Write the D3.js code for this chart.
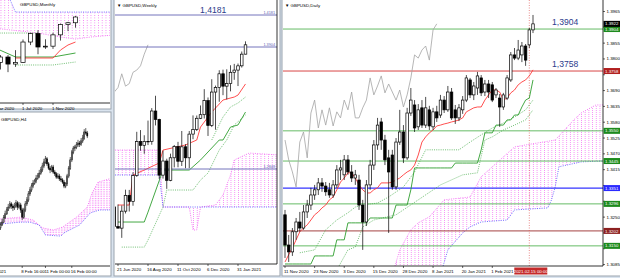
<!DOCTYPE html>
<html>
<head>
<meta charset="utf-8">
<script src="https://cdn.jsdelivr.net/npm/d3@7"></script>
<style>
  body { margin: 0; background: #d9e3ee; }
  svg { display: block; }
  text { font-family: "Liberation Sans", Arial, sans-serif; }
</style>
</head>
<body>
<svg id="chart" width="620" height="278"></svg>
<script>
// ---------- Daily, 11 Nov 2020 .. 16 Feb 2021 : [open, high, low, close]
const dailyOHLC = [
  [1.3258,1.3275,1.3108,1.3153],[1.3153,1.3188,1.3094,1.3129],[1.3129,1.3212,1.3115,1.3199],[1.3199,1.3247,1.3171,1.3233],
  [1.3233,1.3268,1.3199,1.3212],[1.3212,1.3292,1.3206,1.3268],[1.3268,1.3310,1.3247,1.3292],[1.3292,1.3352,1.3275,1.3327],
  [1.3327,1.3362,1.3310,1.3345],[1.3345,1.3386,1.3327,1.3369],[1.3369,1.3386,1.3338,1.3358],[1.3358,1.3372,1.3324,1.3338],
  [1.3345,1.3369,1.3317,1.3327],[1.3327,1.3379,1.3317,1.3362],[1.3362,1.3431,1.3352,1.3414],[1.3414,1.3449,1.3379,1.3421],
  [1.3397,1.3466,1.3379,1.3449],[1.3449,1.3466,1.3397,1.3407],[1.3407,1.3431,1.3372,1.3386],[1.3386,1.3414,1.3362,1.3397],
  [1.3379,1.3397,1.3275,1.3292],[1.3292,1.3310,1.3136,1.3233],[1.3233,1.3379,1.3219,1.3362],[1.3362,1.3449,1.3345,1.3431],
  [1.3431,1.3518,1.3414,1.3501],[1.3501,1.3595,1.3484,1.3570],[1.3581,1.3595,1.3484,1.3518],[1.3518,1.3536,1.3431,1.3449],
  [1.3456,1.3484,1.3195,1.3407],[1.3466,1.3484,1.3345,1.3355],[1.3355,1.3525,1.3345,1.3511],[1.3511,1.3623,1.3501,1.3546],
  [1.3546,1.3570,1.3438,1.3456],[1.3456,1.3630,1.3449,1.3612],[1.3612,1.3699,1.3602,1.3657],[1.3640,1.3657,1.3546,1.3560],
  [1.3564,1.3643,1.3553,1.3623],[1.3630,1.3657,1.3560,1.3570],[1.3570,1.3668,1.3560,1.3630],[1.3623,1.3637,1.3553,1.3567],
  [1.3564,1.3630,1.3553,1.3616],[1.3616,1.3637,1.3581,1.3595],[1.3605,1.3675,1.3595,1.3657],[1.3657,1.3671,1.3612,1.3623],
  [1.3623,1.3706,1.3616,1.3685],[1.3685,1.3699,1.3588,1.3595],[1.3623,1.3640,1.3574,1.3595],[1.3595,1.3643,1.3584,1.3630],
  [1.3623,1.3671,1.3609,1.3657],[1.3657,1.3744,1.3650,1.3734],[1.3727,1.3734,1.3664,1.3675],[1.3675,1.3720,1.3657,1.3706],
  [1.3699,1.3755,1.3675,1.3741],[1.3734,1.3744,1.3671,1.3682],[1.3685,1.3727,1.3671,1.3713],[1.3713,1.3727,1.3664,1.3685],
  [1.3710,1.3720,1.3650,1.3657],[1.3675,1.3699,1.3664,1.3692],[1.3664,1.3678,1.3564,1.3633],[1.3633,1.3682,1.3623,1.3675],
  [1.3664,1.3744,1.3657,1.3734],[1.3727,1.3824,1.3720,1.3814],[1.3814,1.3838,1.3796,1.3803],[1.3803,1.3866,1.3796,1.3831],
  [1.3814,1.3859,1.3789,1.3845],[1.3845,1.3852,1.3776,1.3796],[1.3849,1.3908,1.3838,1.3901],[1.3901,1.3953,1.3890,1.3922]
];
const dailyTenkan = [
  1.3094,1.3119,1.3143,1.3171,1.3199,1.3212,1.3223,1.3240,1.3258,1.3268,1.3282,1.3292,1.3310,1.3320,1.3345,1.3372,
  1.3386,1.3404,1.3404,1.3386,1.3362,1.3345,1.3334,1.3334,1.3345,1.3352,1.3369,1.3369,1.3369,1.3372,1.3379,1.3386,
  1.3397,1.3407,1.3414,1.3431,1.3466,1.3511,1.3529,1.3543,1.3553,1.3567,1.3570,1.3574,1.3577,1.3581,1.3584,1.3588,
  1.3595,1.3616,1.3623,1.3630,1.3633,1.3633,1.3657,1.3675,1.3692,1.3692,1.3685,1.3657,1.3664,1.3682,1.3692,1.3710,
  1.3720,1.3727,1.3741,1.3762
];
const dailyKijun = [
  1.3087,1.3087,1.3087,1.3087,1.3087,1.3087,1.3087,1.3087,1.3115,1.3115,1.3115,1.3115,1.3115,1.3115,1.3171,1.3171,
  1.3171,1.3230,1.3230,1.3230,1.3230,1.3230,1.3230,1.3247,1.3247,1.3247,1.3247,1.3247,1.3247,1.3247,1.3292,1.3292,
  1.3292,1.3292,1.3345,1.3421,1.3421,1.3421,1.3421,1.3421,1.3421,1.3421,1.3421,1.3421,1.3421,1.3421,1.3438,1.3438,
  1.3438,1.3438,1.3438,1.3438,1.3438,1.3484,1.3543,1.3543,1.3543,1.3570,1.3570,1.3570,1.3588,1.3588,1.3605,1.3605,
  1.3633,1.3657,1.3664,1.3727
];
// higher-timeframe lines shown dotted: [bar index, price]
const dailyDotUpper = [[4,1.3126],[8,1.3136],[11,1.3206],[14,1.3240],[17,1.3265],[19,1.3285],[21,1.3292],[25,1.3299],
  [28,1.3320],[32,1.3355],[35,1.3407],[38,1.3484],[47,1.3484],[50,1.3511],[53,1.3536],[56,1.3560],[59,1.3577],
  [62,1.3598],[65,1.3623],[67,1.3657]];
const dailyDotLower = [[14,1.3066],[17,1.3136],[19,1.3146],[21,1.3216],[24,1.3240],[30,1.3258],[36,1.3310],
  [42,1.3362],[48,1.3397],[52,1.3404],[54,1.3518],[56,1.3529],[59,1.3553],[62,1.3570],[65,1.3588],[67,1.3623]];
const dailySpanA = [[29,1.3049],[31,1.3136],[34,1.3206],[36,1.3230],[39,1.3251],[43,1.3310],[50,1.3320],[53,1.3390],
  [56,1.3425],[62,1.3494],[65,1.3501],[73,1.3518],[78,1.3588],[80,1.3612],[84,1.3640],[86,1.3640],[93,1.3657]];
const dailySpanB = [[29,1.2997],[42,1.3049],[44,1.3136],[48,1.3195],[50,1.3216],[53,1.3233],[60,1.3240],[62,1.3275],
  [71,1.3282],[72,1.3310],[73,1.3355],[74,1.3425],[80,1.3442],[93,1.3449]];
const dailyLevels = [1.3904, 1.3758, 1.3550, 1.3445, 1.3351, 1.3296, 1.3202, 1.3150];
const dailyNotes = [1.3904, 1.3758];
const dailyPriceTicks = [1.3965,1.3910,1.3855,1.3800,1.3745,1.3690,1.3635,1.3580,1.3525,1.3470,1.3415,
  1.3360,1.3305,1.3250,1.3195,1.3140,1.3085];
const dailyDateIdx = [0, 8, 16, 24, 32, 40, 48, 56];
const dailyDateLabels = ["11 Nov 2020","23 Nov 2020","3 Dec 2020","15 Dec 2020","28 Dec 2020","8 Jan 2021","20 Jan 2021","1 Feb 2021"];
const dailyCursorIdx = 66;
const dailyCursorLabel = "2021.02.15 00:00";

// ---------- Weekly, week of 15 Jun 2020 .. 15 Feb 2021
const weeklyOHLC = [
  [1.2520,1.2688,1.2333,1.2350],[1.2350,1.2541,1.2335,1.2336],[1.2336,1.2532,1.2252,1.2483],[1.2483,1.2669,1.2463,1.2620],
  [1.2620,1.2667,1.2480,1.2567],[1.2567,1.2820,1.2530,1.2792],[1.2792,1.3170,1.2780,1.3085],[1.3085,1.3185,1.3006,1.3053],
  [1.3053,1.3140,1.2980,1.3087],[1.3087,1.3267,1.3055,1.3085],[1.3085,1.3375,1.3058,1.3350],[1.3350,1.3482,1.3225,1.3277],
  [1.3277,1.3283,1.2762,1.2795],[1.2795,1.3007,1.2765,1.2917],[1.2917,1.2937,1.2676,1.2750],[1.2750,1.2981,1.2742,1.2945],
  [1.2945,1.3056,1.2862,1.3043],[1.3043,1.3083,1.2863,1.2915],[1.2915,1.3177,1.2874,1.3040],[1.3040,1.3063,1.2855,1.2945],
  [1.2945,1.3177,1.2855,1.3150],[1.3150,1.3312,1.3106,1.3190],[1.3190,1.3311,1.3177,1.3287],[1.3287,1.3398,1.3280,1.3318],
  [1.3318,1.3539,1.3285,1.3440],[1.3440,1.3467,1.3134,1.3225],[1.3225,1.3625,1.3211,1.3514],[1.3514,1.3570,1.3188,1.3553],
  [1.3553,1.3703,1.3430,1.3672],[1.3672,1.3708,1.3487,1.3565],[1.3565,1.3711,1.3450,1.3587],[1.3587,1.3746,1.3520,1.3685],
  [1.3685,1.3758,1.3620,1.3704],[1.3704,1.3761,1.3566,1.3741],[1.3741,1.3865,1.3726,1.3842],[1.3842,1.3953,1.3840,1.3923]
];
const weeklyTenkan = [[1,1.2536],[4,1.2536],[5,1.2796],[8,1.2839],[12,1.2900],[13,1.3012],[19,1.3056],[22,1.3099],
  [23,1.3211],[26,1.3341],[29,1.3445],[32,1.3471],[33,1.3488],[35,1.3584]];
const weeklyKijun = [[1,1.2389],[8,1.2389],[9,1.2475],[13,1.2839],[20,1.2839],[23,1.2926],[28,1.3099],[29,1.3099],
  [31,1.3211],[33,1.3229],[35,1.3341]];
const weeklyDotA = [[2,1.2172],[8,1.2172],[9,1.2233],[13,1.2519],[14,1.2666],[21,1.2666],[23,1.2752],[25,1.2813],
  [28,1.3012],[30,1.3099],[32,1.3229],[35,1.3315]];
const weeklyDotB = [[26,1.3099],[29,1.3298],[31,1.3385],[33,1.3419],[35,1.3471]];
const weeklySpanA = [[-1,1.3012],[12,1.3012],[13,1.2519],[20,1.2519],[21,1.2320],[22,1.2320],[23,1.2519],[27,1.2536],
  [29,1.2623],[31,1.2796],[32,1.2926],[36,1.2986],[44,1.2969]];
const weeklySpanB = [[-1,1.2796],[12,1.2796],[13,1.2519],[44,1.2519]];
const weeklyLevels = [1.4181, 1.3904, 1.2848];
const weeklyNote = 1.4181;
const weeklyDateIdx = [1, 9, 17, 25, 33];
const weeklyDateLabels = ["21 Jun 2020","16 Aug 2020","11 Oct 2020","6 Dec 2020","31 Jan 2021"];

// ---------- Monthly, Apr 2020 .. Feb 2021
const monthlyOHLC = [
  [1.2403,1.2648,1.2165,1.2583],[1.2583,1.2648,1.2076,1.2347],[1.2347,1.2813,1.2252,1.2403],[1.2403,1.3170,1.2395,1.3085],
  [1.3085,1.3395,1.2982,1.3373],[1.3373,1.3482,1.2676,1.2918],[1.2918,1.3177,1.2855,1.2946],[1.2946,1.3398,1.2855,1.3325],
  [1.3325,1.3703,1.3134,1.3672],[1.3672,1.3759,1.3450,1.3730],[1.3730,1.3953,1.3566,1.3923]
];
const monthlyTenkan = [[2,1.2550],[7,1.2550],[8,1.2817],[9,1.2985],[10,1.3085]];
const monthlyKijun = [[-1,1.2918],[2,1.2583],[7,1.2583],[10,1.2717]];
const monthlyDotA = [[-1,1.3386],[5,1.3386]];
const monthlyDotB = [[2,1.2316],[7,1.2316],[10,1.2416]];
const monthlySpanA = [[-1,1.3553],[5,1.3386],[8,1.3252],[10,1.3185],[12,1.3252],[15,1.3319]];
const monthlySpanB = [[-1,1.4657],[1,1.4657],[2,1.4088],[15,1.4088]];
const monthlyDateIdx = [-1, 3, 7];
const monthlyDateLabels = ["1 Mar 2020","1 Jul 2020","1 Nov 2020"];

// ---------- H4, 5 Feb .. 16 Feb 2021
const h4OHLC = [
  [1.3682,1.3698,1.3676,1.3690],[1.3690,1.3707,1.3687,1.3698],[1.3698,1.3718,1.3696,1.3710],[1.3710,1.3730,1.3707,1.3721],
  [1.3721,1.3740,1.3718,1.3732],[1.3732,1.3749,1.3729,1.3740],[1.3740,1.3757,1.3735,1.3749],[1.3749,1.3754,1.3735,1.3743],
  [1.3743,1.3749,1.3729,1.3738],[1.3738,1.3752,1.3732,1.3743],[1.3743,1.3760,1.3738,1.3752],[1.3752,1.3757,1.3732,1.3740],
  [1.3740,1.3754,1.3735,1.3746],[1.3746,1.3752,1.3724,1.3732],[1.3732,1.3738,1.3704,1.3712],[1.3712,1.3738,1.3707,1.3732],
  [1.3732,1.3757,1.3726,1.3749],[1.3749,1.3768,1.3743,1.3760],[1.3760,1.3785,1.3754,1.3777],[1.3777,1.3796,1.3771,1.3788],
  [1.3788,1.3807,1.3782,1.3799],[1.3799,1.3816,1.3793,1.3807],[1.3807,1.3819,1.3802,1.3813],[1.3813,1.3830,1.3807,1.3821],
  [1.3821,1.3835,1.3816,1.3827],[1.3827,1.3844,1.3821,1.3835],[1.3835,1.3852,1.3830,1.3844],[1.3844,1.3864,1.3838,1.3855],
  [1.3855,1.3875,1.3849,1.3866],[1.3866,1.3883,1.3861,1.3875],[1.3875,1.3880,1.3855,1.3861],[1.3861,1.3866,1.3844,1.3849],
  [1.3849,1.3855,1.3835,1.3844],[1.3844,1.3858,1.3838,1.3852],[1.3852,1.3858,1.3833,1.3838],[1.3838,1.3844,1.3827,1.3833],
  [1.3833,1.3838,1.3819,1.3824],[1.3824,1.3835,1.3819,1.3827],[1.3827,1.3833,1.3813,1.3819],[1.3819,1.3827,1.3810,1.3816],
  [1.3816,1.3821,1.3805,1.3810],[1.3810,1.3816,1.3793,1.3799],[1.3799,1.3810,1.3793,1.3805],[1.3805,1.3833,1.3799,1.3827],
  [1.3827,1.3855,1.3821,1.3849],[1.3849,1.3880,1.3844,1.3872],[1.3872,1.3900,1.3866,1.3894],[1.3894,1.3911,1.3888,1.3905],
  [1.3905,1.3914,1.3897,1.3908],[1.3908,1.3922,1.3902,1.3914],[1.3914,1.3928,1.3908,1.3919],[1.3919,1.3925,1.3908,1.3916],
  [1.3916,1.3933,1.3911,1.3925],[1.3925,1.3942,1.3919,1.3933],[1.3933,1.3958,1.3928,1.3950],[1.3950,1.3961,1.3942,1.3947],
  [1.3947,1.3953,1.3933,1.3939]
];
const h4SpanA = [[0,1.3707],[13,1.3712],[21,1.3704],[27,1.3682],[34,1.3676],[40,1.3684],[49,1.3712],[56,1.3740],
  [59,1.3779],[63,1.3810],[72,1.3821]];
const h4SpanB = [[0,1.3693],[13,1.3698],[19,1.3698],[25,1.3690],[29,1.3662],[39,1.3659],[41,1.3668],[51,1.3690],
  [58,1.3724],[64,1.3732],[72,1.3732]];
const h4DateIdx = [-10, 14, 29, 46];
const h4DateLabels = ["5 Feb 2021","8 Feb 16:00","11 Feb 00:00","16 Feb 00:00"];

// ================= drawing =================
const svg = d3.select("#chart");
const defs = svg.append("defs");
const FS = 4.4;

function clip(id, x, y, w, h) {
  defs.append("clipPath").attr("id", id).append("rect").attr("x", x).attr("y", y).attr("width", w).attr("height", h);
}
function cloudPattern(id, w, h, x0, dot) {
  const p = defs.append("pattern").attr("id", id).attr("patternUnits", "userSpaceOnUse")
    .attr("x", x0).attr("width", w).attr("height", h);
  p.append("rect").attr("width", dot).attr("height", dot).attr("fill", "#f25af2");
}
const pairs = arr => arr.map((v, i) => [i, v]);

function drawLine(g, pts, x, y, color, width, dash) {
  g.append("path").datum(pts)
    .attr("d", d3.line().x(d => x(d[0])).y(d => y(d[1])))
    .attr("fill", "none").attr("stroke", color).attr("stroke-width", width || 1)
    .attr("stroke-dasharray", dash || null);
}
function drawCloud(g, a, b, x, y, pat) {
  const ring = a.concat(b.slice().reverse());
  g.append("path").attr("d", d3.line().x(d => x(d[0])).y(d => y(d[1]))(ring) + "Z")
    .attr("fill", `url(#${pat})`);
  drawLine(g, a, x, y, "#f25af2", 0.8, "1,1.3");
  drawLine(g, b, x, y, "#4a4aff", 0.8, "1,1.3");
}
function drawCandles(g, data, x, y, w, sw) {
  const c = g.append("g").selectAll("g").data(data).join("g");
  c.append("line")
    .attr("x1", (d, i) => x(i)).attr("x2", (d, i) => x(i))
    .attr("y1", d => y(d[1])).attr("y2", d => y(d[2]))
    .attr("stroke", "#000").attr("stroke-width", sw);
  c.append("rect")
    .attr("x", (d, i) => x(i) - w / 2).attr("width", w)
    .attr("y", d => y(Math.max(d[0], d[3])))
    .attr("height", d => Math.max(0.5, Math.abs(y(d[0]) - y(d[3]))))
    .attr("fill", d => d[3] >= d[0] ? "#fff" : "#000")
    .attr("stroke", "#000").attr("stroke-width", sw);
}
function dateAxis(g, idx, labels, x, yLine, x0, x1) {
  g.append("line").attr("x1", x0).attr("x2", x1).attr("y1", yLine).attr("y2", yLine)
    .attr("stroke", "#000").attr("stroke-width", 0.8);
  g.selectAll(null).data(idx).join("line")
    .attr("x1", d => x(d)).attr("x2", d => x(d)).attr("y1", yLine).attr("y2", yLine + 2)
    .attr("stroke", "#000").attr("stroke-width", 0.6);
  g.selectAll(null).data(idx).join("text")
    .attr("x", d => x(d) - 1).attr("y", yLine + 6.5)
    .attr("font-size", FS).attr("fill", "#000")
    .text((d, i) => labels[i]);
}

// window frames
function frame(x, y, w, h) {
  svg.append("rect").attr("x", x).attr("y", y).attr("width", w).attr("height", h)
    .attr("fill", "#fff").attr("stroke", "#9aa3ad").attr("stroke-width", 1);
}
frame(-1, -1, 112, 110);
frame(-1, 112, 112, 164);
frame(114, -1, 166, 277);
frame(282, -1, 339, 277);

// ---------------- Monthly ----------------
{
  clip("cM", 0, 0, 110, 103);
  cloudPattern("pM", 3.75, 2.5, 0.5, 0.8);
  const x = d3.scaleLinear().domain([0, 10]).range([0.5, 75.5]);
  const y = d3.scaleLinear().domain([1.2483, 1.3923]).range([60, 17]);
  const g = svg.append("g").attr("clip-path", "url(#cM)");
  drawCloud(g, monthlySpanA, monthlySpanB, x, y, "pM");
  drawLine(g, monthlyDotA, x, y, "#4caf50", 0.8, "1,1.2");
  drawLine(g, monthlyDotB, x, y, "#4caf50", 0.8, "1,1.2");
  drawLine(g, monthlyKijun, x, y, "#2f9e2f", 0.9);
  drawLine(g, monthlyTenkan, x, y, "#ff3b3b", 0.9);
  drawCandles(g, monthlyOHLC, x, y, 4.2, 0.7);
  svg.append("text").attr("x", 20).attr("y", 6).attr("font-size", FS).attr("fill", "#000").text("GBPUSD,Monthly");
  dateAxis(svg.append("g"), monthlyDateIdx, monthlyDateLabels, x, 103, 0, 110);
}

// ---------------- H4 ----------------
{
  clip("cH", 0, 113, 110, 153);
  clip("cHa", 0, 260, 110, 18);
  cloudPattern("pH", 1.55, 1.8, 0.5, 0.7);
  const x = d3.scaleLinear().domain([0, 56]).range([0.5, 87.3]);
  const y = d3.scaleLinear().domain([1.3690, 1.3950]).range([225, 132]);
  const g = svg.append("g").attr("clip-path", "url(#cH)");
  drawCloud(g, h4SpanA, h4SpanB, x, y, "pH");
  drawCandles(g, h4OHLC, x, y, 1.0, 0.6);
  svg.append("text").attr("x", 1).attr("y", 121).attr("font-size", FS).attr("fill", "#000").text("GBPUSD,H4");
  dateAxis(svg.append("g").attr("clip-path", "url(#cHa)"), h4DateIdx, h4DateLabels, x, 266, 0, 110);
}

// ---------------- Weekly ----------------
{
  clip("cW", 115, 0, 162, 264);
  cloudPattern("pW", 3.75, 2, 114.25, 0.8);
  const x = d3.scaleLinear().domain([0, 35]).range([114.25, 245.5]);
  const y = d3.scaleLinear().domain([1.2848, 1.4181]).range([169, 15]);
  const g = svg.append("g").attr("clip-path", "url(#cW)");
  drawCloud(g, weeklySpanA, weeklySpanB, x, y, "pW");
  // chikou: close plotted 26 bars back
  drawLine(g, weeklyOHLC.slice(26).map((d, i) => [i, d[3]]), x, y, "#a3a3a3", 0.8);
  drawLine(g, weeklyDotA, x, y, "#4caf50", 0.8, "1,1.2");
  drawLine(g, weeklyDotB, x, y, "#4caf50", 0.8, "1,1.2");
  drawLine(g, weeklyKijun, x, y, "#2f9e2f", 0.9);
  drawLine(g, weeklyTenkan, x, y, "#ff3b3b", 0.9);
  g.selectAll(null).data(weeklyLevels).join("line")
    .attr("x1", 115).attr("x2", 277).attr("y1", d => y(d)).attr("y2", d => y(d))
    .attr("stroke", "#6464b4").attr("stroke-width", 0.9);
  drawCandles(g, weeklyOHLC, x, y, 2.6, 0.7);
  svg.selectAll(null).data(weeklyLevels).join("text")
    .attr("x", 275).attr("y", d => y(d) - 1.2).attr("text-anchor", "end")
    .attr("font-size", 3.8).attr("fill", "#6464b4").text(d => d.toFixed(4));
  svg.append("text").attr("x", 200).attr("y", y(weeklyNote) - 2.5)
    .attr("font-family", "Liberation Serif, serif").attr("font-size", 8.6).attr("fill", "#2c3c8c")
    .text(weeklyNote.toFixed(4).replace(".", ","));
  svg.append("text").attr("x", 117).attr("y", 7).attr("font-size", FS).attr("fill", "#000").text("\u25BC GBPUSD,Weekly");
  svg.append("line").attr("x1", 277).attr("x2", 277).attr("y1", 0).attr("y2", 264).attr("stroke", "#000").attr("stroke-width", 0.8);
  dateAxis(svg.append("g"), weeklyDateIdx, weeklyDateLabels, x, 264, 115, 277);
}

// ---------------- Daily ----------------
{
  clip("cD", 283, 0, 320, 266);
  cloudPattern("pD", 3.7, 2, 285, 0.8);
  const x = d3.scaleLinear().domain([0, 67]).range([285, 533]);
  const y = d3.scaleLinear().domain([1.3080, 1.4005]).range([266, 0]);
  const g = svg.append("g").attr("clip-path", "url(#cD)");
  const levelColor = ["#55b355", "#d23030", "#55b355", "#55b355", "#3434ff", "#55b355", "#982b2b", "#55b355"];
  const boxColor = ["#1d8a1d", "#b11f1f", "#1d8a1d", "#1d8a1d", "#2a2aff", "#1d8a1d", "#8c2020", "#1d8a1d"];

  drawCloud(g, dailySpanA, dailySpanB, x, y, "pD");
  g.selectAll(null).data(dailyLevels).join("line")
    .attr("x1", 283).attr("x2", 603).attr("y1", d => y(d)).attr("y2", d => y(d))
    .attr("stroke", (d, i) => levelColor[i]).attr("stroke-width", (d, i) => i === 4 ? 1.3 : 0.9);
  g.append("line").attr("x1", x(dailyCursorIdx)).attr("x2", x(dailyCursorIdx)).attr("y1", 0).attr("y2", 266)
    .attr("stroke", "#e05a5a").attr("stroke-width", 0.7).attr("stroke-dasharray", "1,1.5");
  // chikou: close plotted 26 bars back
  drawLine(g, dailyOHLC.slice(26).map((d, i) => [i, d[3]]), x, y, "#a3a3a3", 0.8);
  drawLine(g, dailyDotLower, x, y, "#4caf50", 0.8, "1,1.2");
  drawLine(g, dailyDotUpper, x, y, "#4caf50", 0.8, "1,1.2");
  drawLine(g, pairs(dailyKijun), x, y, "#2f9e2f", 0.9);
  drawLine(g, pairs(dailyTenkan), x, y, "#ff3b3b", 0.9);
  drawCandles(g, dailyOHLC, x, y, 2.5, 0.7);

  svg.selectAll(null).data(dailyNotes).join("text")
    .attr("x", 552).attr("y", d => y(d) - 4.5)
    .attr("font-family", "Liberation Serif, serif").attr("font-size", 8.6).attr("fill", "#2c3c8c")
    .text(d => d.toFixed(4).replace(".", ","));
  svg.append("text").attr("x", 285).attr("y", 7).attr("font-size", FS).attr("fill", "#000").text("\u25BC GBPUSD,Daily");

  // price axis; tick labels that sit under a coloured price box are hidden, as in the terminal
  const boxes = dailyLevels.map((p, i) => ({ p, c: boxColor[i] }))
    .concat([{ p: dailyOHLC[dailyOHLC.length - 1][3], c: "#000" }]);
  const visibleTicks = dailyPriceTicks.filter(t => boxes.every(b => Math.abs(y(t) - y(b.p)) > 6.5));
  svg.append("line").attr("x1", 603).attr("x2", 603).attr("y1", 0).attr("y2", 266).attr("stroke", "#000").attr("stroke-width", 0.8);
  const ax = svg.append("g");
  ax.selectAll(null).data(dailyPriceTicks).join("line")
    .attr("x1", 603).attr("x2", 605).attr("y1", d => y(d)).attr("y2", d => y(d)).attr("stroke", "#000").attr("stroke-width", 0.6);
  ax.selectAll(null).data(visibleTicks).join("text")
    .attr("x", 606.5).attr("y", d => y(d) + 1.5).attr("font-size", FS).attr("fill", "#000")
    .text(d => d.toFixed(4));
  const bx = ax.selectAll(null).data(boxes).join("g");
  bx.append("rect").attr("x", 603.5).attr("y", d => y(d.p) - 3).attr("width", 16.5).attr("height", 6).attr("fill", d => d.c);
  bx.append("text").attr("x", 605).attr("y", d => y(d.p) + 1.6).attr("font-size", FS).attr("fill", "#fff").text(d => d.p.toFixed(4));

  dateAxis(svg.append("g"), dailyDateIdx, dailyDateLabels, x, 266, 283, 603);
  const cx = x(dailyCursorIdx);
  svg.append("rect").attr("x", cx - 15).attr("y", 267.5).attr("width", 33).attr("height", 7).attr("fill", "#c42a2a");
  svg.append("text").attr("x", cx + 1.5).attr("y", 272.7).attr("text-anchor", "middle")
    .attr("font-size", FS).attr("fill", "#fff").text(dailyCursorLabel);
}
</script>
</body>
</html>
